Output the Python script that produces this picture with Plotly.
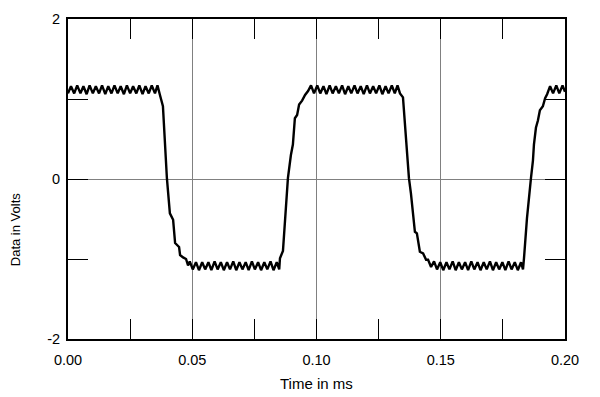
import plotly.graph_objects as go

# Time (ms) and voltage samples
t_high1 = [0.0000, 0.0012, 0.0025, 0.0037, 0.0050, 0.0062, 0.0075, 0.0087, 0.0100, 0.0112,
           0.0125, 0.0137, 0.0150, 0.0162, 0.0175, 0.0187, 0.0200, 0.0212, 0.0225, 0.0237,
           0.0250, 0.0262, 0.0275, 0.0287, 0.0300, 0.0312, 0.0325, 0.0337, 0.0350, 0.0360]
v_high1 = [1.07, 1.16, 1.07, 1.17, 1.07, 1.16, 1.06, 1.17, 1.07, 1.16,
           1.07, 1.17, 1.06, 1.16, 1.07, 1.17, 1.07, 1.16, 1.06, 1.17,
           1.07, 1.16, 1.07, 1.17, 1.06, 1.16, 1.07, 1.17, 1.07, 1.17]

t_fall1 = [0.0370, 0.0378, 0.0382, 0.0398, 0.0410, 0.0423, 0.0431, 0.0447, 0.0451, 0.0463, 0.0475, 0.0483]
v_fall1 = [1.05, 0.95, 0.91, 0.01, -0.43, -0.51, -0.80, -0.85, -0.95, -0.98, -1.00, -1.08]

t_low1 = [0.0490, 0.0502, 0.0515, 0.0527, 0.0540, 0.0552, 0.0565, 0.0577, 0.0590, 0.0602,
          0.0615, 0.0627, 0.0640, 0.0652, 0.0665, 0.0677, 0.0690, 0.0702, 0.0715, 0.0727,
          0.0740, 0.0752, 0.0765, 0.0777, 0.0790, 0.0802, 0.0815, 0.0827, 0.0840, 0.0850]
v_low1 = [-1.03, -1.13, -1.04, -1.14, -1.04, -1.13, -1.04, -1.14, -1.03, -1.13,
          -1.04, -1.14, -1.04, -1.13, -1.03, -1.14, -1.04, -1.13, -1.04, -1.14,
          -1.03, -1.13, -1.04, -1.14, -1.04, -1.13, -1.03, -1.14, -1.04, -1.13]

t_rise1 = [0.0853, 0.0865, 0.0873, 0.0885, 0.0897, 0.0905, 0.0913, 0.0922, 0.0930, 0.0942, 0.0954, 0.0966]
v_rise1 = [-0.99, -0.90, -0.58, 0.01, 0.30, 0.43, 0.76, 0.80, 0.93, 0.98, 1.05, 1.10]

t_high2 = [0.0978, 0.0990, 0.1003, 0.1015, 0.1028, 0.1040, 0.1053, 0.1065, 0.1078, 0.1090,
           0.1103, 0.1115, 0.1128, 0.1140, 0.1153, 0.1165, 0.1178, 0.1190, 0.1203, 0.1215,
           0.1228, 0.1240, 0.1253, 0.1265, 0.1278, 0.1290, 0.1303, 0.1315, 0.1326]
v_high2 = [1.17, 1.07, 1.17, 1.07, 1.16, 1.06, 1.17, 1.07, 1.16, 1.07,
           1.17, 1.06, 1.16, 1.07, 1.17, 1.07, 1.16, 1.06, 1.17, 1.07,
           1.16, 1.07, 1.17, 1.06, 1.16, 1.07, 1.17, 1.07, 1.17]

t_fall2 = [0.1336, 0.1348, 0.1356, 0.1372, 0.1380, 0.1388, 0.1396, 0.1404, 0.1416, 0.1429, 0.1441, 0.1449, 0.1461]
v_fall2 = [1.07, 1.02, 0.65, 0.01, -0.18, -0.39, -0.66, -0.68, -0.91, -0.93, -1.01, -1.01, -1.10]

t_low2 = [0.1473, 0.1485, 0.1498, 0.1510, 0.1523, 0.1535, 0.1548, 0.1560, 0.1573, 0.1585,
          0.1598, 0.1610, 0.1623, 0.1635, 0.1648, 0.1660, 0.1673, 0.1685, 0.1698, 0.1710,
          0.1723, 0.1735, 0.1748, 0.1760, 0.1773, 0.1785, 0.1798, 0.1810, 0.1823, 0.1831]
v_low2 = [-1.03, -1.13, -1.04, -1.14, -1.04, -1.13, -1.03, -1.14, -1.04, -1.13,
          -1.04, -1.14, -1.03, -1.13, -1.04, -1.14, -1.04, -1.13, -1.03, -1.14,
          -1.04, -1.13, -1.04, -1.14, -1.03, -1.13, -1.04, -1.14, -1.04, -1.13]

t_rise2 = [0.1835, 0.1847, 0.1863, 0.1871, 0.1875, 0.1883, 0.1891, 0.1899, 0.1911, 0.1920, 0.1928]
v_rise2 = [-0.99, -0.49, 0.01, 0.23, 0.43, 0.64, 0.73, 0.86, 0.91, 1.01, 1.06]

t_high3 = [0.1940, 0.1952, 0.1965, 0.1977, 0.1990, 0.2000]
v_high3 = [1.16, 1.07, 1.17, 1.07, 1.17, 1.09]

x_tick_vals = [0.00, 0.05, 0.10, 0.15, 0.20]
x_tick_text = ["0.00", "0.05", "0.10", "0.15", "0.20"]
y_tick_vals = [-2, 0, 2]
y_tick_text = ["-2", "0", "2"]
x_title = "Time in ms"
y_title = "Data in Volts"

t_all = t_high1 + t_fall1 + t_low1 + t_rise1 + t_high2 + t_fall2 + t_low2 + t_rise2 + t_high3
v_all = v_high1 + v_fall1 + v_low1 + v_rise1 + v_high2 + v_fall2 + v_low2 + v_rise2 + v_high3

FONT = "Liberation Sans, Arial, sans-serif"

fig = go.Figure()
fig.add_trace(go.Scatter(x=t_all, y=v_all, mode="lines",
                         line=dict(color="black", width=2.4), showlegend=False,
                         hoverinfo="skip"))

fig.update_layout(
    width=600, height=397,
    margin=dict(l=68, r=35, t=19, b=58),
    paper_bgcolor="white", plot_bgcolor="white",
    font=dict(family=FONT, size=14.5, color="black"),
    annotations=[
        dict(text=x_title, xref="paper", yref="paper", x=0.5, y=-0.1375,
             xanchor="center", yanchor="middle", showarrow=False,
             font=dict(size=15)),
        dict(text=y_title, xref="paper", yref="paper", x=-0.1066, y=0.34,
             xanchor="center", yanchor="middle", showarrow=False, textangle=-90,
             font=dict(size=13)),
    ],
)
fig.update_xaxes(
    range=[0, 0.2], tickvals=x_tick_vals, ticktext=x_tick_text,
    showgrid=True, gridcolor="#808080", gridwidth=1,
    ticks="inside", ticklen=20, tickcolor="black", tickwidth=1,
    minor=dict(dtick=0.025, tick0=0, ticks="inside", ticklen=20,
               tickcolor="black", tickwidth=1, showgrid=False),
    showline=True, linecolor="black", linewidth=2, mirror="ticks",
    zeroline=False, ticklabelstandoff=7,
    tickfont=dict(size=14.5),
)
fig.update_yaxes(
    range=[-2, 2], tickvals=y_tick_vals, ticktext=y_tick_text,
    showgrid=True, gridcolor="#808080", gridwidth=1,
    ticks="inside", ticklen=20, tickcolor="black", tickwidth=1,
    minor=dict(dtick=1, tick0=0, ticks="inside", ticklen=20,
               tickcolor="black", tickwidth=1, showgrid=False),
    showline=True, linecolor="black", linewidth=2, mirror="ticks",
    zeroline=False, ticklabelstandoff=3,
    tickfont=dict(size=14.5),
)

fig.write_html("out.html", config={"displayModeBar": False},
               post_script="document.body.style.margin='0';")
